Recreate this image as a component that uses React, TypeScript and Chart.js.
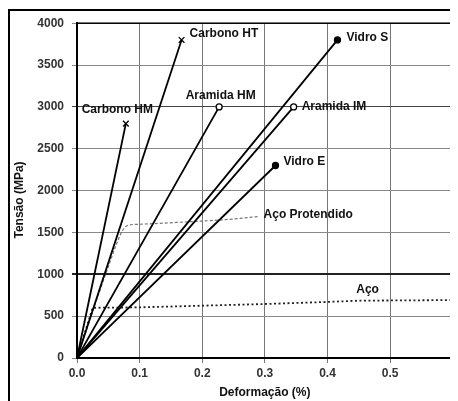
import React, { useEffect, useRef } from "react";
import { Chart, registerables } from "chart.js";

Chart.register(...registerables);

// Strain (%) / stress (MPa)
const carbonoHT = [{ x: 0, y: 0 }, { x: 0.167, y: 3800 }];
const carbonoHM = [{ x: 0, y: 0 }, { x: 0.078, y: 2800 }];
const aramidaHM = [{ x: 0, y: 0 }, { x: 0.227, y: 3000 }];
const aramidaIM = [{ x: 0, y: 0 }, { x: 0.346, y: 3000 }];
const vidroS = [{ x: 0, y: 0 }, { x: 0.416, y: 3800 }];
const vidroE = [{ x: 0, y: 0 }, { x: 0.317, y: 2300 }];
const acoProtendido = [
  { x: 0, y: 0 }, { x: 0.049, y: 1070 }, { x: 0.071, y: 1500 }, { x: 0.077, y: 1565 },
  { x: 0.084, y: 1590 }, { x: 0.1, y: 1598 }, { x: 0.16, y: 1620 }, { x: 0.24, y: 1655 },
  { x: 0.29, y: 1690 },
];
const aco = [
  { x: 0, y: 0 }, { x: 0.025, y: 600 }, { x: 0.1, y: 605 }, { x: 0.2, y: 625 },
  { x: 0.3, y: 645 }, { x: 0.4, y: 670 }, { x: 0.45, y: 685 }, { x: 0.6, y: 692 },
];

const seriesNames = ["Carbono HT", "Carbono HM", "Aramida HM", "Aramida IM", "Vidro S", "Vidro E", "Aço Protendido", "Aço"];
const xMin = 0;
const xMax = 0.6;
const xStep = 0.1;
const yMin = 0;
const yMax = 4000;
const yStep = 500;
const xTitle = "Deformação (%)";
const yTitle = "Tensão (MPa)";

// Label placement: relative to series end point (pixels) or to a data anchor
const endLabels = [
  { series: 0, dx: 8, dy: -6, align: "left" },
  { series: 1, dx: -8.5, dy: -14, align: "center" },
  { series: 2, dx: 1.5, dy: -11, align: "center" },
  { series: 3, dx: 8, dy: 0, align: "left" },
  { series: 4, dx: 9, dy: -2, align: "left" },
  { series: 5, dx: 8, dy: -4, align: "left" },
];
const anchoredLabels = [
  { series: 6, x: 0.298, y: 1718 },
  { series: 7, x: 0.446, y: 811 },
];

const FONT = "'Liberation Sans', Arial, sans-serif";

const fiber = (label: string, data: any[], style: string, fill: string, r: number) => ({
  label,
  data,
  showLine: true,
  borderColor: "#000",
  borderWidth: 1.8,
  pointStyle: style,
  pointRadius: [0, r],
  pointBackgroundColor: fill,
  pointBorderColor: "#000",
  pointBorderWidth: 1.3,
});

export default function App() {
  const ref = useRef<HTMLCanvasElement>(null);
  useEffect(() => {
    const decor = {
      id: "decor",
      afterDraw(chart: any) {
        const { ctx, chartArea: a, scales } = chart;
        ctx.save();
        // plot frame
        ctx.strokeStyle = "#000";
        ctx.lineWidth = 1.5;
        ctx.strokeRect(a.left, a.top, a.right - a.left, a.bottom - a.top);
        ctx.lineWidth = 2;
        ctx.beginPath();
        ctx.moveTo(a.left, a.top);
        ctx.lineTo(a.left, a.bottom);
        ctx.lineTo(a.right, a.bottom);
        ctx.stroke();
        // outer frame (top + left)
        ctx.beginPath();
        ctx.moveTo(1, chart.height);
        ctx.lineTo(1, 2);
        ctx.lineTo(chart.width, 2);
        ctx.stroke();
        // labels
        ctx.fillStyle = "#111";
        ctx.font = `bold 12px ${FONT}`;
        ctx.textBaseline = "middle";
        endLabels.forEach((l) => {
          const pt = chart.getDatasetMeta(l.series).data[1];
          ctx.textAlign = l.align;
          ctx.fillText(seriesNames[l.series], pt.x + l.dx, pt.y + l.dy);
        });
        anchoredLabels.forEach((l) => {
          ctx.textAlign = "left";
          ctx.fillText(seriesNames[l.series], scales.x.getPixelForValue(l.x), scales.y.getPixelForValue(l.y));
        });
        // axis titles
        ctx.textAlign = "center";
        ctx.fillText(xTitle, (a.left + a.right) / 2, 385);
        ctx.translate(12, 192);
        ctx.rotate(-Math.PI / 2);
        ctx.fillText(yTitle, 0, 0);
        ctx.restore();
      },
    };

    const chart = new Chart(ref.current!, {
      type: "scatter",
      data: {
        datasets: [
          fiber(seriesNames[0], carbonoHT, "crossRot", "#000", 4),
          fiber(seriesNames[1], carbonoHM, "crossRot", "#000", 4),
          fiber(seriesNames[2], aramidaHM, "circle", "#fff", 3),
          fiber(seriesNames[3], aramidaIM, "circle", "#fff", 3),
          fiber(seriesNames[4], vidroS, "circle", "#000", 3),
          fiber(seriesNames[5], vidroE, "circle", "#000", 3),
          {
            label: seriesNames[6],
            data: acoProtendido,
            showLine: true,
            borderColor: "#777",
            borderWidth: 1.2,
            borderDash: [3, 2],
            pointRadius: 0,
            cubicInterpolationMode: "monotone",
          },
          {
            label: seriesNames[7],
            data: aco,
            showLine: true,
            borderColor: "#222",
            borderWidth: 1.8,
            borderDash: [2, 2.5],
            pointRadius: 0,
          },
        ],
      } as any,
      options: {
        animation: false,
        responsive: false,
        layout: { padding: { left: 0, top: 14, right: 4, bottom: 0 } },
        plugins: { legend: { display: false }, tooltip: { enabled: false } },
        scales: {
          x: {
            type: "linear",
            min: xMin,
            max: xMax,
            afterFit: (s: any) => { s.height = 43; },
            ticks: {
              stepSize: xStep,
              padding: 3,
              color: "#333",
              font: { family: FONT, size: 12, weight: "bold" },
              callback: (v: any) => (Number(v) >= xMax - 0.001 ? "" : Number(v).toFixed(1)),
            },
            grid: { color: "#777", lineWidth: 1, tickLength: 5 },
            border: { display: true, color: "#000", width: 2 },
          },
          y: {
            type: "linear",
            min: yMin,
            max: yMax,
            afterFit: (s: any) => { s.width = 69; },
            ticks: {
              stepSize: yStep,
              padding: 8,
              color: "#333",
              font: { family: FONT, size: 12, weight: "bold" },
              callback: (v: any) => String(Math.round(Number(v))),
            },
            grid: {
              color: (c: any) => (c.tick && c.tick.value === 1000 ? "#222" : c.tick && c.tick.value === 3000 ? "#444" : "#888"),
              lineWidth: (c: any) => (c.tick && c.tick.value === 1000 ? 2 : 1),
              tickLength: 5,
            },
            border: { display: true, color: "#000", width: 2 },
          },
        },
      } as any,
      plugins: [decor],
    });
    return () => chart.destroy();
  }, []);
  return <canvas ref={ref} width={450} height={393} style={{ display: "block" }} />;
}
